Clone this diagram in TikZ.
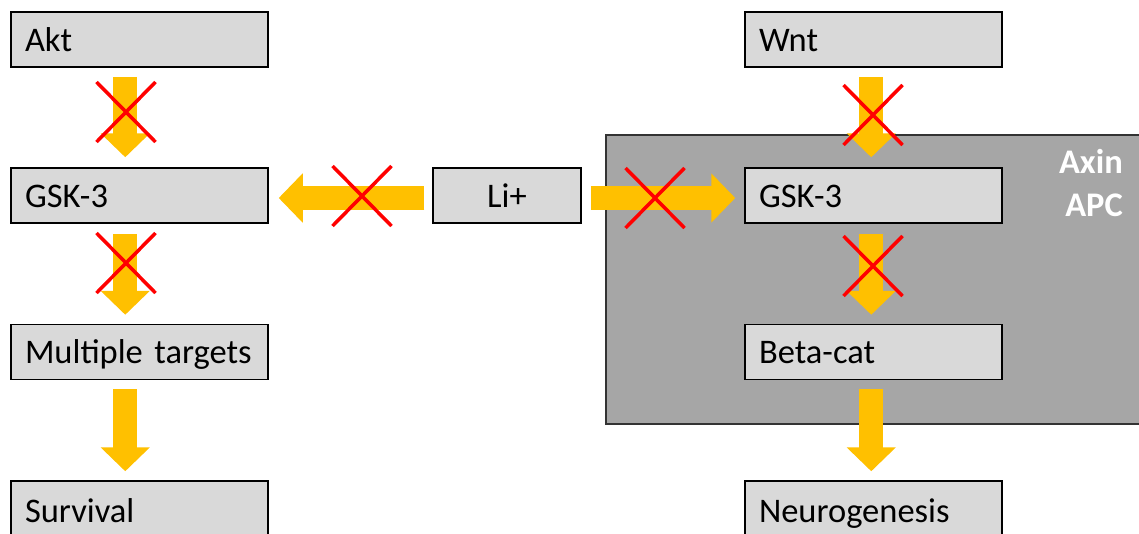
\documentclass[tikz,border=0pt]{standalone}
\usepackage{fontspec}
\setmainfont{Carlito}
\usetikzlibrary{arrows.meta,calc}
\definecolor{boxfill}{HTML}{D9D9D9}
\definecolor{panel}{HTML}{A6A6A6}
\definecolor{arrowy}{HTML}{FFC000}
\tikzset{
  box/.style={draw=black, line width=1.5pt, fill=boxfill, minimum width=257pt, minimum height=55pt,
    text width=229pt, align=left, inner xsep=14pt, inner ysep=0pt, text height=28pt, text depth=5pt,
    font=\fontsize{34.5}{40}\selectfont},
  smallbox/.style={box, minimum width=148pt, text width=120pt, align=center},
  blockarrow/.style={draw=arrowy, line width=24pt, line cap=butt, -{Triangle[width=48pt, length=24pt]}},
  cross/.style={draw=red, line width=3.5pt},
}
\begin{document}
\begin{tikzpicture}[x=1pt,y=-1pt]
\useasboundingbox (0,0) rectangle (1139,533);
\fill[white] (0,0) rectangle (1139,533);
\clip (0,0) rectangle (1139,533);
% grey panel
\node[draw=black!80, line width=1.5pt, fill=panel, minimum width=540pt, minimum height=289pt, anchor=north west, inner sep=0pt] (panel) at (605,134) {};
\node[anchor=north east, align=right, text=white, font=\fontsize{34.5}{43}\selectfont\bfseries, inner sep=0pt] (axin) at (1123,149) {Axin\\APC};
% left column
\node[box] (akt) at (139.5,39.5) {Akt};
\node[box] (gskl) at (139.5,195.5) {GSK-3};
\node[box] (multi) at (139.5,352) {Multiple targets};
\node[box, minimum height=60pt] (surv) at (139.5,511) {Survival};
% middle
\node[smallbox] (li) at (507,195.5) {Li+};
% right column
\node[box] (wnt) at (873.5,39.5) {Wnt};
\node[box] (gskr) at (873.5,195.5) {GSK-3};
\node[box] (beta) at (873.5,352) {Beta-cat};
\node[box, minimum height=60pt] (neuro) at (873.5,511) {Neurogenesis};
% arrows
\draw[blockarrow] ($(akt.south west)+(115,9)$) -- ($(gskl.north west)+(115,-10)$);
\draw[blockarrow] ($(gskl.south west)+(115,10)$) -- ($(multi.north west)+(115,-9)$);
\draw[blockarrow] ($(multi.south west)+(115,9)$) -- ($(surv.north west)+(115,-9)$);
\draw[blockarrow] ($(wnt.south west)+(127,9)$) -- ($(gskr.north west)+(127,-10)$);
\draw[blockarrow] ($(gskr.south west)+(127,10)$) -- ($(beta.north west)+(127,-9)$);
\draw[blockarrow] ($(beta.south west)+(127,9)$) -- ($(neuro.north west)+(127,-9)$);
\draw[blockarrow] ($(li.west)+(-8,2.5)$) -- ($(gskl.east)+(10,2.5)$);
\draw[blockarrow] ($(li.east)+(9,2.5)$) -- ($(gskr.west)+(-9,2.5)$);
% crosses
\foreach \cx/\cy in {126/112, 126/263, 362/196, 655/198, 873/115, 873/266}{
  \draw[cross] (\cx-29.5,\cy-30) -- (\cx+29.5,\cy+30);
  \draw[cross] (\cx-29.5,\cy+30) -- (\cx+29.5,\cy-30);
}
\end{tikzpicture}
\end{document}
